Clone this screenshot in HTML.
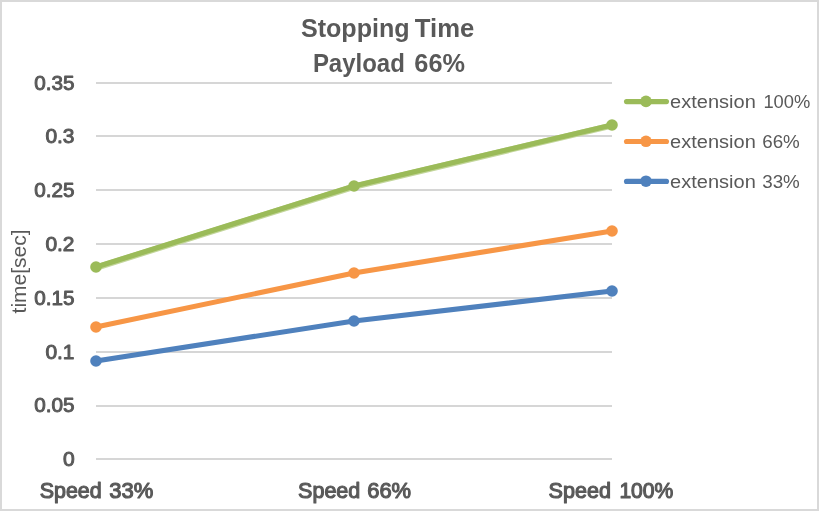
<!DOCTYPE html>
<html>
<head>
<meta charset="utf-8">
<title>Stopping Time - Payload 66%</title>
<style>
  html, body { margin: 0; padding: 0; background: #ffffff; }
  body { width: 819px; height: 511px; overflow: hidden; }
  svg { display: block; will-change: transform; }
  text { font-family: "Liberation Sans", sans-serif; fill: #595959; }
  .b { font-weight: normal; stroke: #595959; stroke-width: 1.15px; stroke-linejoin: round; }
  .title { font-size: 25px; font-weight: bold; stroke: none; }
  .tick { font-size: 19.8px; stroke-width: 0.95px; }
  .xl { font-size: 22px; }
  .leg { font-size: 18.7px; }
  .ax { font-size: 20px; }
</style>
</head>
<body>
<svg width="819" height="511" viewBox="0 0 819 511">
  <!-- background + outer border -->
  <rect x="0" y="0" width="819" height="511" fill="#ffffff"/>
  <rect x="1" y="1" width="817" height="509" fill="none" stroke="#d9d9d9" stroke-width="2"/>

  <!-- gridlines -->
  <g stroke="#d6d6d6" stroke-width="2" shape-rendering="crispEdges">
    <line x1="96" y1="83" x2="612" y2="83"/>
    <line x1="96" y1="136" x2="612" y2="136"/>
    <line x1="96" y1="190" x2="612" y2="190"/>
    <line x1="96" y1="244" x2="612" y2="244"/>
    <line x1="96" y1="298" x2="612" y2="298"/>
    <line x1="96" y1="352" x2="612" y2="352"/>
    <line x1="96" y1="406" x2="612" y2="406"/>
    <line x1="96" y1="459" x2="612" y2="459"/>
  </g>

  <!-- title -->
  <g class="b title">
    <text x="300.9" y="36.6" textLength="108.7" lengthAdjust="spacingAndGlyphs">Stopping</text>
    <text x="414.8" y="36.6" textLength="59.5" lengthAdjust="spacingAndGlyphs">Time</text>
    <text x="312.9" y="71.6" textLength="91.9" lengthAdjust="spacingAndGlyphs">Payload</text>
    <text x="414.3" y="71.6" textLength="50.7" lengthAdjust="spacingAndGlyphs">66%</text>
  </g>

  <!-- y tick labels -->
  <g class="b tick">
    <text x="34.2" y="89.6" textLength="40.3" lengthAdjust="spacingAndGlyphs">0.35</text>
    <text x="45.4" y="142.6" textLength="29.1" lengthAdjust="spacingAndGlyphs">0.3</text>
    <text x="34.2" y="196.6" textLength="40.3" lengthAdjust="spacingAndGlyphs">0.25</text>
    <text x="45.4" y="250.6" textLength="29.1" lengthAdjust="spacingAndGlyphs">0.2</text>
    <text x="34.2" y="304.6" textLength="40.3" lengthAdjust="spacingAndGlyphs">0.15</text>
    <text x="45.4" y="358.6" textLength="29.1" lengthAdjust="spacingAndGlyphs">0.1</text>
    <text x="34.2" y="411.6" textLength="40.3" lengthAdjust="spacingAndGlyphs">0.05</text>
    <text x="62.9" y="465.6" textLength="11.7" lengthAdjust="spacingAndGlyphs">0</text>
  </g>

  <!-- x labels -->
  <g class="b xl">
    <text x="39.7" y="498.4" textLength="62.0" lengthAdjust="spacingAndGlyphs">Speed</text>
    <text x="109.2" y="498.4" textLength="44.0" lengthAdjust="spacingAndGlyphs">33%</text>
    <text x="298.1" y="498.4" textLength="62.2" lengthAdjust="spacingAndGlyphs">Speed</text>
    <text x="367.2" y="498.4" textLength="43.9" lengthAdjust="spacingAndGlyphs">66%</text>
    <text x="548.6" y="498.4" textLength="62.4" lengthAdjust="spacingAndGlyphs">Speed</text>
    <text x="619.4" y="498.4" textLength="53.9" lengthAdjust="spacingAndGlyphs">100%</text>
  </g>

  <!-- y axis title -->
  <text class="ax" transform="translate(26.1 313.4) rotate(-90)" textLength="84" lengthAdjust="spacingAndGlyphs">time[sec]</text>

  <!-- series -->
  <g fill="none" stroke-linecap="round" stroke-linejoin="round">
    <polyline points="96,361 354,321 612,291" stroke="#4f81bd" stroke-width="5.1"/>
    <polyline points="96,327 354,273 612,231" stroke="#f79646" stroke-width="5.1"/>
    <polyline points="96,267.7 354,186.7 612,125.5" stroke="#c3d69b" stroke-width="6.2"/>
    <polyline points="96,267 354,186 612,125" stroke="#9bbb59" stroke-width="5.2"/>
  </g>
  <g>
    <circle cx="96" cy="361" r="5.8" fill="#4f81bd"/>
    <circle cx="354" cy="321" r="5.8" fill="#4f81bd"/>
    <circle cx="612" cy="291" r="5.8" fill="#4f81bd"/>
    <circle cx="96" cy="327" r="5.8" fill="#f79646"/>
    <circle cx="354" cy="273" r="5.8" fill="#f79646"/>
    <circle cx="612" cy="231" r="5.8" fill="#f79646"/>
    <circle cx="96" cy="267" r="5.8" fill="#9bbb59"/>
    <circle cx="354" cy="186" r="5.8" fill="#9bbb59"/>
    <circle cx="612" cy="125" r="5.8" fill="#9bbb59"/>
  </g>

  <!-- legend -->
  <g stroke-linecap="round" stroke-width="5.1">
    <line x1="626.5" y1="101.6" x2="666.5" y2="101.6" stroke="#9bbb59"/>
    <line x1="626.5" y1="141.5" x2="666.5" y2="141.5" stroke="#f79646"/>
    <line x1="626.5" y1="181.4" x2="666.5" y2="181.4" stroke="#4f81bd"/>
  </g>
  <circle cx="646" cy="101.4" r="5.8" fill="#9bbb59"/>
  <circle cx="646" cy="141.3" r="5.8" fill="#f79646"/>
  <circle cx="646" cy="181.2" r="5.8" fill="#4f81bd"/>
  <g class="leg">
    <text x="670.1" y="107.7" textLength="85.7" lengthAdjust="spacingAndGlyphs">extension</text>
    <text x="763.4" y="107.7" textLength="46.9" lengthAdjust="spacingAndGlyphs">100%</text>
    <text x="670.1" y="147.7" textLength="85.7" lengthAdjust="spacingAndGlyphs">extension</text>
    <text x="762.2" y="147.7" textLength="37.6" lengthAdjust="spacingAndGlyphs">66%</text>
    <text x="670.1" y="187.7" textLength="85.7" lengthAdjust="spacingAndGlyphs">extension</text>
    <text x="762.2" y="187.7" textLength="37.6" lengthAdjust="spacingAndGlyphs">33%</text>
  </g>
</svg>
</body>
</html>
